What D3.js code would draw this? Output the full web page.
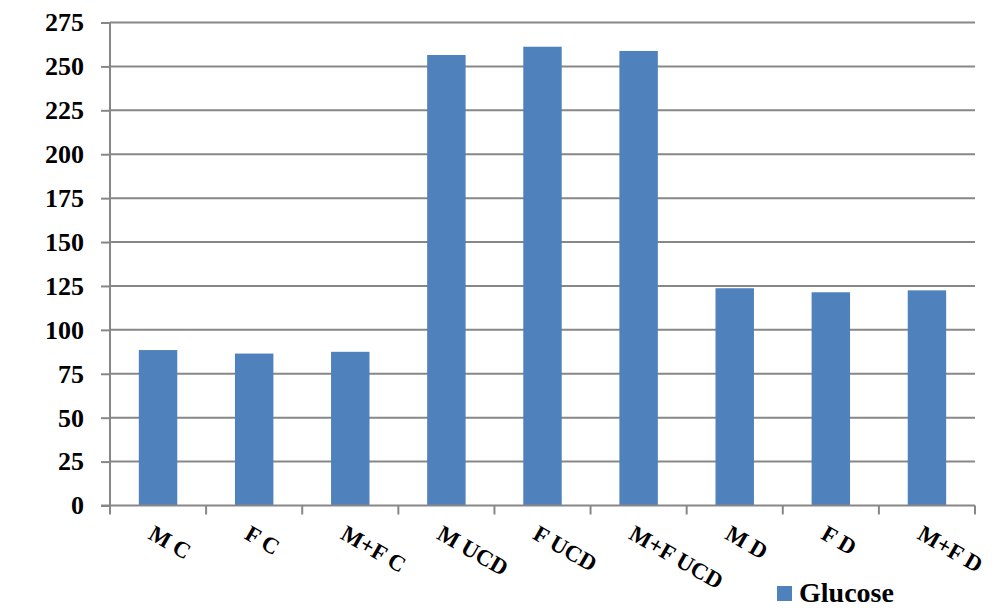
<!DOCTYPE html>
<html><head><meta charset="utf-8">
<script src="https://cdn.jsdelivr.net/npm/d3@7"></script>
<style>body{margin:0;background:#fff}svg{display:block}</style>
</head><body>
<svg id="c" width="1000" height="611"></svg>
<script>
const categories = ["M C","F C","M+F C","M UCD","F UCD","M+F UCD","M D","F D","M+F D"];
const glucose = [88.5, 86.5, 87.5, 256.5, 261.2, 258.8, 123.7, 121.4, 122.5];
const yTicks = [0,25,50,75,100,125,150,175,200,225,250,275];
const seriesName = "Glucose";

(function(){
const svg = d3.select("#c");
const mLeft = 110, mRight = 975, mTop = 22.5, mBottom = 505.5;
const x = d3.scaleBand().domain(categories).range([mLeft, mRight]).paddingInner(0.6).paddingOuter(0.3);
const xb = d3.scaleBand().domain(categories).range([mLeft, mRight]);
const y = d3.scaleLinear().domain([0, 275]).range([mBottom, mTop]);
const grid = "#878787";
const font = "'Liberation Serif','Times New Roman',serif";

svg.append("g").selectAll("line").data(yTicks.filter(d=>d>0)).join("line")
  .attr("x1", mLeft).attr("x2", mRight).attr("y1", d=>y(d)).attr("y2", d=>y(d))
  .attr("stroke", grid).attr("stroke-width", 2);

svg.append("g").selectAll("rect").data(glucose).join("rect")
  .attr("x", (d,i)=>x(categories[i])).attr("width", x.bandwidth())
  .attr("y", d=>y(d)).attr("height", d=>mBottom - y(d))
  .attr("fill", "#4f81bd");

const ya = svg.append("g").attr("transform", `translate(${mLeft},0)`)
  .call(d3.axisLeft(y).tickValues(yTicks).tickSize(9).tickPadding(17));
ya.select(".domain").attr("stroke", grid).attr("stroke-width", 2).attr("d", `M0,${mTop}V${mBottom+1}`);
ya.selectAll(".tick line").attr("stroke", grid).attr("stroke-width", 2);
ya.selectAll(".tick text").attr("font-family", font).attr("font-weight", "bold")
  .attr("font-size", 26).attr("fill", "#000");

const xa = svg.append("g").attr("transform", `translate(0,${mBottom})`)
  .call(d3.axisBottom(xb).tickSize(0).tickFormat(""));
xa.select(".domain").attr("stroke", grid).attr("stroke-width", 2).attr("d", `M${mLeft-9},0H${mRight}`);
xa.selectAll(".tick").remove();
const bounds = [...categories.map(c=>xb(c)), mRight];
svg.append("g").selectAll("line").data(bounds).join("line")
  .attr("x1", d=>d).attr("x2", d=>d).attr("y1", mBottom).attr("y2", mBottom+9)
  .attr("stroke", grid).attr("stroke-width", 2);

svg.append("g").selectAll("text").data(categories).join("text")
  .attr("transform", d=>`translate(${xb(d)+xb.bandwidth()/2 - 11},${mBottom+32.5}) rotate(30)`)
  .attr("font-family", font).attr("font-weight", "bold").attr("font-size", 23)
  .attr("fill", "#000").text(d=>d);

svg.append("rect").attr("x", 777).attr("y", 586).attr("width", 15).attr("height", 15).attr("fill", "#4f81bd");
svg.append("text").attr("x", 799).attr("y", 602).attr("font-family", font).attr("font-weight", "bold")
  .attr("font-size", 28).attr("fill", "#000").text(seriesName);
})();
</script>
</body></html>
